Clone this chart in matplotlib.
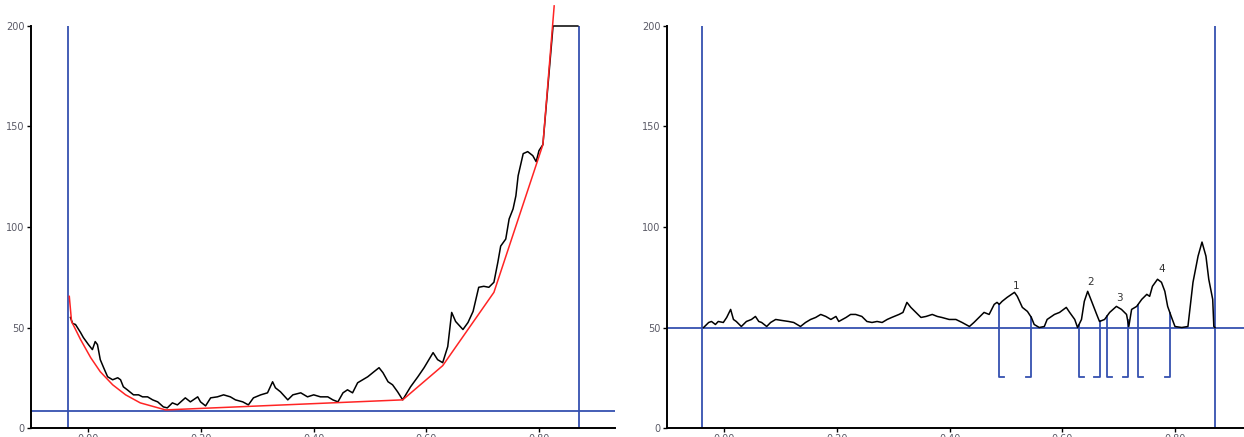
import numpy as np
import matplotlib
matplotlib.use("Agg")
import matplotlib.pyplot as plt

# ---- left panel data ----
left_x = [-0.032, -0.028, -0.023, -0.014, -0.009, 0.000, 0.007, 0.012, 0.016, 0.021,
          0.027, 0.034, 0.043, 0.052, 0.057, 0.062, 0.069, 0.080, 0.089, 0.096,
          0.105, 0.114, 0.123, 0.133, 0.140, 0.149, 0.158, 0.172, 0.181, 0.194,
          0.199, 0.208, 0.217, 0.229, 0.240, 0.252, 0.261, 0.274, 0.284, 0.293,
          0.306, 0.318, 0.327, 0.332, 0.341, 0.354, 0.363, 0.377, 0.389, 0.400,
          0.412, 0.425, 0.434, 0.443, 0.452, 0.460, 0.469, 0.478, 0.487, 0.496,
          0.507, 0.516, 0.523, 0.532, 0.540, 0.549, 0.558, 0.572, 0.585, 0.596,
          0.612, 0.620, 0.629, 0.638, 0.645, 0.652, 0.665, 0.674, 0.683, 0.693,
          0.702, 0.711, 0.720, 0.727, 0.732, 0.741, 0.747, 0.754, 0.759, 0.763,
          0.772, 0.780, 0.789, 0.795, 0.800, 0.807, 0.825, 0.869]
left_y = [55, 52, 51.5, 47.5, 45, 41.5, 39, 43, 41.5, 34,
          30, 25.5, 24, 25, 24, 20.5, 19, 16.5, 16.5, 15.5,
          15.5, 14, 13, 10.5, 10, 12.5, 11.5, 15, 13, 15.5,
          13, 11, 15, 15.5, 16.5, 15.5, 14, 13, 11.5, 15,
          16.5, 17.5, 23, 20, 18, 14, 16.5, 17.5, 15.5, 16.5,
          15.5, 15.5, 14, 13, 17.5, 19, 17.5, 22.5, 24, 25.5,
          28, 30, 27.5, 23, 21.5, 18, 14, 20.5, 25.5, 30,
          37.5, 34, 32.5, 40.5, 57.5, 53, 49, 52.5, 58, 70,
          70.5, 70, 72.5, 82.5, 90.5, 94, 104, 109, 115.5, 125.5,
          136.5, 137.5, 135.5, 132.5, 138, 141, 200, 200]

fit_x = [-0.034, -0.030, -0.014, 0.004, 0.021, 0.043, 0.066, 0.092, 0.137,
         0.558, 0.629, 0.720, 0.807, 0.827]
fit_y = [65.5, 53, 44, 35, 28, 21.5, 16.5, 12.5, 9,
         14, 31, 67.5, 141, 210]

left_bounds = [-0.036, 0.871]
left_base = 8.5

# ---- right panel data ----
right_x = [-0.037, -0.028, -0.023, -0.016, -0.011, -0.002, 0.004, 0.011, 0.016, 0.021,
           0.030, 0.039, 0.048, 0.055, 0.061, 0.066, 0.075, 0.082, 0.091, 0.102,
           0.114, 0.123, 0.135, 0.144, 0.153, 0.162, 0.171, 0.180, 0.189, 0.198,
           0.203, 0.216, 0.224, 0.233, 0.244, 0.253, 0.262, 0.271, 0.280, 0.289,
           0.297, 0.310, 0.317, 0.324, 0.331, 0.340, 0.349, 0.358, 0.369, 0.378,
           0.386, 0.399, 0.411, 0.422, 0.435, 0.443, 0.452, 0.461, 0.470, 0.479,
           0.484, 0.488, 0.493, 0.502, 0.515, 0.520, 0.529, 0.538, 0.545, 0.550,
           0.559, 0.568, 0.573, 0.586, 0.595, 0.607, 0.613, 0.622, 0.627, 0.634,
           0.639, 0.645, 0.652, 0.661, 0.666, 0.675, 0.684, 0.696, 0.705, 0.714,
           0.718, 0.723, 0.732, 0.741, 0.750, 0.755, 0.760, 0.769, 0.776, 0.782,
           0.787, 0.794, 0.800, 0.812, 0.823, 0.832, 0.841, 0.848, 0.855, 0.860,
           0.867, 0.869, 0.871]
right_y = [50, 52.5, 53, 51.5, 53, 52.5, 55, 59, 54, 53,
           50.5, 53, 54, 55.5, 53, 52.5, 50.5, 52.5, 54, 53.5,
           53, 52.5, 50.5, 52.5, 54, 55, 56.5, 55.5, 54, 55.5,
           53, 55, 56.5, 56.5, 55.5, 53, 52.5, 53, 52.5, 54,
           55, 56.5, 57.5, 62.5, 60, 57.5, 55, 55.5, 56.5, 55.5,
           55, 54, 54, 52.5, 50.5, 52.5, 55, 57.5, 56.5, 61.5,
           62.5, 61.5, 63, 65, 67.5, 65.5, 60, 58, 55, 51.5,
           50, 50.5, 54, 56.5, 57.5, 60, 57.5, 54, 50, 54,
           63, 68, 63, 56.5, 53, 54, 57.5, 60.5, 59, 56.5,
           50.5, 59, 60.5, 64, 66.5, 65.5, 70.5, 74, 72.5, 68,
           60.5, 55, 50.5, 50, 50.5, 72.5, 85.5, 92.5, 85.5, 74,
           64, 50.5, 50]

right_bounds = [-0.039, 0.871]
right_base = 50
peak_starts = [0.488, 0.629, 0.680, 0.734]
peak_ends = [0.545, 0.666, 0.716, 0.791]
peak_labels = ["1", "2", "3", "4"]
label_x = [0.518, 0.650, 0.702, 0.776]
label_y = [70.5, 72.5, 64.5, 79]
bracket_y = 25.5

xticks = [0.0, 0.2, 0.4, 0.6, 0.8]
xticklabels = ["0.00", "0.20", "0.40", "0.60", "0.80"]
yticks = [0, 50, 100, 150, 200]

BLUE = "#3550b0"
RED = "#ff2424"
TXT = "#5a5a66"

fig = plt.figure(figsize=(12.44, 4.37), dpi=100)
ax1 = fig.add_axes([31 / 1244, 9 / 437, 584 / 1244, 402 / 437])
ax2 = fig.add_axes([667 / 1244, 9 / 437, 584 / 1244, 402 / 437])


def style(ax):
    ax.set_xlim(-0.102, 0.935)
    ax.set_ylim(0, 200)
    for s in ["top", "right"]:
        ax.spines[s].set_visible(False)
    for s in ["left", "bottom"]:
        ax.spines[s].set_linewidth(1.4)
        ax.spines[s].set_color("black")
    ax.set_xticks(xticks)
    ax.set_xticklabels(xticklabels)
    ax.set_yticks(yticks)
    ax.tick_params(axis="both", length=3, width=1, labelsize=7, labelcolor=TXT, pad=1.5)


# left
style(ax1)
ax1.axhline(left_base, color=BLUE, lw=1.3, zorder=1)
for b in left_bounds:
    ax1.axvline(b, color=BLUE, lw=1.3, zorder=1)
ax1.plot(left_x, left_y, color="black", lw=1.1, zorder=2, clip_on=False)
ax1.plot(fit_x, fit_y, color=RED, lw=1.1, zorder=3, clip_on=False)

# right
style(ax2)
ax2.axhline(right_base, color=BLUE, lw=1.3, zorder=1)
for b in right_bounds:
    ax2.axvline(b, color=BLUE, lw=1.3, zorder=1)
ax2.plot(right_x, right_y, color="black", lw=1.1, zorder=2)
foot = 0.009
for xs, xe in zip(peak_starts, peak_ends):
    ys = np.interp(xs, right_x, right_y)
    ye = np.interp(xe, right_x, right_y)
    ax2.plot([xs, xs, xs + foot], [ys, bracket_y, bracket_y], color=BLUE, lw=1.3, zorder=1)
    ax2.plot([xe, xe, xe - foot], [ye, bracket_y, bracket_y], color=BLUE, lw=1.3, zorder=1)
for lab, lx, ly in zip(peak_labels, label_x, label_y):
    ax2.text(lx, ly, lab, fontsize=7.5, color="#333333", ha="center", va="center")

fig.savefig("out.png", dpi=100)
